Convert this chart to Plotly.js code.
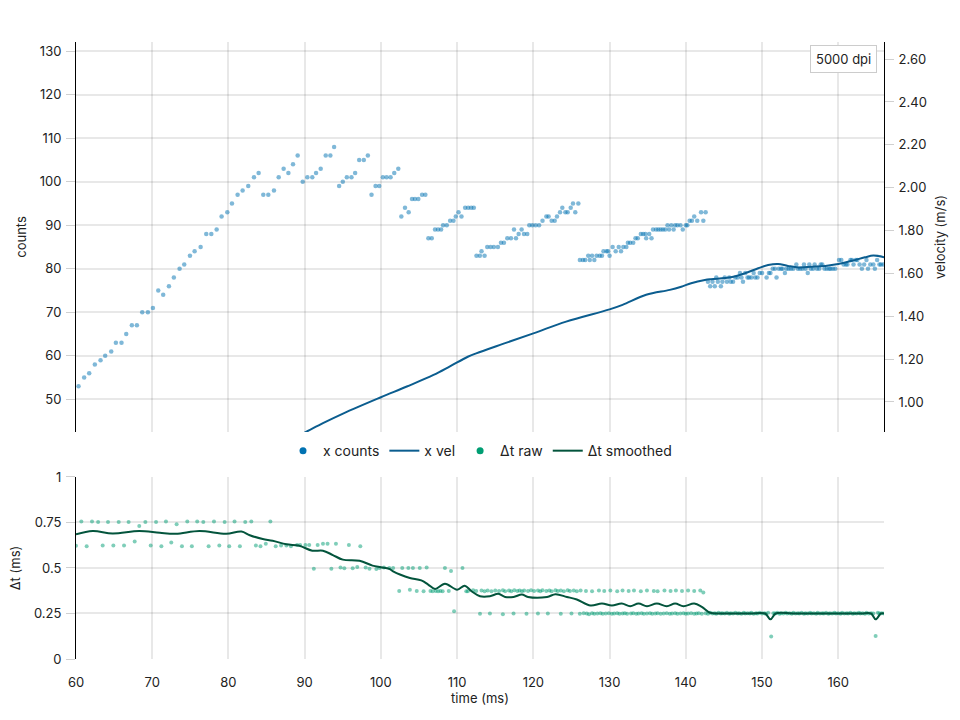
<!DOCTYPE html>
<html>
<head>
<meta charset="utf-8">
<script src="https://cdn.plot.ly/plotly-3.0.1.min.js"></script>
<style>html,body{margin:0;padding:0;background:#fff;}#chart{width:960px;height:720px;}</style>
</head>
<body>
<div id="chart"></div>
<script>
// ---- x counts (top panel, left axis) ----
var countT = [60.33,61.07,61.73,62.47,63.22,63.83,64.62,65.23,65.97,66.59,67.33,67.99,68.69,69.43,70.09,70.79,71.44,72.19,72.84,73.59,74.2,74.95,75.56,76.35,77.09,77.75,78.45,79.1,79.85,80.46,81.2,81.86,82.6,83.35,83.96,84.57,85.23,85.97,86.59,87.24,87.86,88.47,89.08,89.74,90.35,91.0,91.49,
92.1,92.76,93.37,93.86,94.52,95.0,95.53,96.14,96.62,97.15,97.76,98.29,98.77,99.3,99.78,100.26,100.75,101.27,101.75,102.28,102.68,103.16,103.64,104.08,104.47,104.91,105.4,105.83,106.23,106.67,107.1,107.5,107.9,108.16,108.64,109.08,109.52,109.82,110.18,110.57,111.05,111.45,111.84,112.19,112.54,112.98,113.2,113.6,113.95,114.39,114.82,115.35,115.75,116.14,116.58,117.06,117.46,117.72,118.07,118.46,118.77,119.2,119.47,119.87,120.3,120.75,
121.2,121.7,122.0,122.4,122.8,123.1,123.5,123.8,124.2,124.5,124.9,125.2,125.5,125.9,126.1,126.5,126.8,127.2,127.4,127.7,128.0,128.3,128.7,129.0,129.2,129.6,129.8,130.0,130.4,130.8,131.2,131.5,131.8,132.2,132.4,132.7,133.1,133.4,133.7,134.1,134.4,134.7,134.8,135.2,135.5,135.7,136.1,136.4,136.7,137.0,137.3,137.6,137.8,138.1,138.4,138.6,138.9,139.3,139.6,140.0,140.2,140.5,140.8,141.1,141.5,142.0,142.3,142.6,
142.9,143.2,143.5,143.8,144.0,144.2,144.6,144.8,145.1,145.4,145.7,145.9,146.2,146.5,146.8,147.1,147.3,147.5,147.8,148.1,148.3,148.6,148.9,149.1,149.4,149.7,150.0,150.6,150.9,151.1,151.4,151.7,151.9,152.2,152.5,152.7,153.0,153.2,153.5,153.8,154.1,154.5,154.7,155.0,155.3,155.5,155.7,156.0,156.2,156.4,156.7,156.9,157.2,157.5,157.7,157.9,158.2,158.5,158.8,159.0,159.3,159.6,160.1,160.4,160.7,161.0,161.2,161.6,161.8,162.0,162.3,162.5,162.8,163.1,163.4,163.7,163.9,164.2,164.6,164.8,165.1,165.4,165.6,165.9];
var countV = [53,55,56,58,59,60,61,63,63,65,67,67,70,70,71,75,74,76,78,80,81,83,84,85,88,88,89,92,93,95,97,98,99,101,102,97,97,98,101,103,102,104,106,100,101,101,102,
103,106,106,108,99,100,101,101,102,105,105,106,97,99,99,101,101,101,102,103,92,94,93,96,96,96,97,97,87,87,89,89,89,90,90,91,91,92,93,92,94,94,94,94,83,83,84,83,85,85,85,85,86,86,87,87,89,87,88,89,88,88,90,90,90,90,
91,92,92,91,91,92,93,94,93,93,94,95,93,95,82,82,82,83,82,83,82,83,83,83,84,84,84,83,85,84,85,84,85,85,86,86,86,87,87,88,88,88,87,88,87,89,89,89,89,89,89,90,89,90,89,90,90,90,89,90,90,91,91,92,91,93,91,93,
77,76,77,76,78,77,76,77,78,77,78,77,77,78,78,79,78,77,79,78,78,78,79,78,78,79,79,78,79,79,80,80,78,80,80,80,79,80,80,80,80,81,80,80,80,81,80,79,81,80,80,81,80,80,81,81,80,80,80,80,80,80,82,82,81,81,81,82,82,81,82,82,81,80,81,82,80,81,81,80,82,81,81,81];

// ---- x vel (top panel, right axis) ----
var velT = [89.0,90.0,92.4,95.1,100.0,103.4,106.9,109.0,111.4,112.5,116.0,120.0,124.3,130.0,131.7,134.8,137.9,139.4,140.7,142.5,143.3,145.9,147.7,149.5,150.8,152.1,153.4,154.8,156.5,158.3,160.0,161.8,163.5,164.6,166.1];
var velV = [0.84,0.857,0.901,0.947,1.022,1.072,1.126,1.165,1.211,1.227,1.271,1.32,1.375,1.432,1.453,1.50,1.523,1.538,1.554,1.569,1.573,1.582,1.60,1.624,1.639,1.644,1.635,1.628,1.631,1.635,1.644,1.659,1.675,1.683,1.675];

// ---- Δt raw (bottom panel) ----
var dtRawT = [60.7,62.1,62.9,64.2,65.6,66.9,68.3,69.1,70.5,71.8,73.2,74.6,75.9,76.7,78.1,79.5,80.8,82.2,83.0,85.5,
60.0,61.4,63.5,64.9,66.3,67.7,69.8,71.2,72.5,73.9,75.2,77.4,78.8,80.1,81.5,83.6,84.2,84.9,86.2,86.9,87.6,88.2,89.0,89.4,90.1,90.6,91.7,92.4,93.0,94.1,95.8,97.3,
91.2,93.5,94.7,95.2,96.3,96.9,98.0,98.5,99.4,99.8,100.4,101.1,101.6,102.8,103.6,104.2,105.1,106.0,108.4,109.2,110.7,
102.4,103.8,104.7,105.6,106.5,106.8,107.2,107.5,107.8,108.1,108.9,111.2,111.4,112.1,112.5,113.2,113.6,114.0,114.5,115.0,115.5,116.0,116.3,116.8,117.1,117.5,117.9,118.2,118.5,118.8,119.3,119.7,120.1,120.6,120.9,121.2,121.7,122.1,122.4,122.9,123.2,123.6,124.0,124.5,124.8,125.3,125.7,126.2,126.9,127.7,128.6,129.3,130.1,131.0,131.7,132.5,133.2,134.1,134.9,135.8,136.3,137.2,138.0,138.7,139.5,140.3,141.1,141.9,142.3,
109.6,113.0,114.3,116.0,117.4,119.1,120.6,121.9,123.6,125.0,126.1,126.6,127.0,127.3,127.7,128.0,128.4,128.8,129.1,129.5,129.9,130.3,130.6,131.0,131.3,131.7,132.0,132.3,132.8,133.1,133.5,133.8,134.2,134.5,134.9,135.3,135.6,136.0,136.3,136.7,137.1,137.5,137.9,138.2,138.6,138.9,139.3,139.7,140.0,140.3,140.7,141.1,141.4,141.7,142.1,
142.6,142.9,143.2,143.5,143.8,144.0,144.3,144.6,144.8,145.1,145.4,145.7,145.9,146.2,146.5,146.8,147.0,147.3,147.6,147.8,148.1,148.4,148.6,148.9,149.2,149.4,149.7,150.0,150.3,150.5,150.8,151.2,151.5,151.7,152.0,152.3,152.5,152.8,153.1,153.3,153.6,153.9,154.1,154.4,154.7,154.9,155.2,155.5,155.7,156.0,156.3,156.5,156.8,157.1,157.3,157.6,157.9,158.1,158.4,158.7,158.9,159.2,159.5,159.7,160.0,160.3,160.5,160.8,161.1,161.3,161.6,161.9,162.1,162.4,162.7,162.9,163.2,163.5,163.7,164.0,164.3,164.6,164.9,165.2,165.4,165.7,166.0];
var dtRawV = [0.755,0.755,0.752,0.752,0.752,0.752,0.73,0.752,0.752,0.755,0.74,0.755,0.755,0.752,0.755,0.752,0.755,0.752,0.755,0.755,
0.622,0.62,0.624,0.624,0.624,0.645,0.624,0.62,0.64,0.62,0.62,0.62,0.624,0.62,0.62,0.624,0.62,0.633,0.62,0.624,0.624,0.62,0.626,0.626,0.626,0.626,0.626,0.633,0.633,0.633,0.626,0.62,
0.496,0.496,0.502,0.498,0.498,0.505,0.503,0.496,0.495,0.5,0.503,0.5,0.5,0.5,0.5,0.5,0.5,0.502,0.5,0.484,0.5,
0.374,0.38,0.374,0.372,0.374,0.372,0.374,0.372,0.374,0.372,0.374,0.372,0.372,0.378,0.374,0.376,0.372,0.376,0.372,0.376,0.374,0.378,0.372,0.376,0.372,0.378,0.374,0.376,0.372,0.376,0.374,0.378,0.374,0.376,0.372,0.378,0.374,0.376,0.372,0.378,0.374,0.376,0.372,0.378,0.374,0.376,0.372,0.376,0.374,0.372,0.376,0.374,0.376,0.372,0.376,0.374,0.376,0.372,0.376,0.374,0.372,0.376,0.374,0.376,0.374,0.376,0.374,0.376,0.366,
0.263,0.248,0.25,0.246,0.25,0.248,0.25,0.25,0.248,0.25,0.248,0.252,0.25,0.246,0.252,0.248,0.25,0.252,0.248,0.25,0.252,0.248,0.25,0.252,0.248,0.25,0.252,0.248,0.25,0.252,0.248,0.25,0.252,0.248,0.25,0.252,0.248,0.25,0.252,0.248,0.25,0.252,0.248,0.25,0.252,0.248,0.25,0.252,0.248,0.25,0.252,0.248,0.25,0.252,0.248,
0.252,0.248,0.254,0.25,0.252,0.248,0.254,0.25,0.252,0.25,0.254,0.248,0.252,0.25,0.254,0.25,0.252,0.248,0.254,0.25,0.252,0.25,0.254,0.248,0.252,0.25,0.254,0.25,0.252,0.248,0.254,0.123,0.252,0.25,0.254,0.248,0.252,0.25,0.254,0.25,0.252,0.248,0.254,0.25,0.252,0.25,0.254,0.248,0.252,0.25,0.254,0.25,0.252,0.248,0.254,0.25,0.252,0.25,0.254,0.248,0.252,0.25,0.254,0.25,0.252,0.248,0.254,0.25,0.252,0.25,0.254,0.248,0.252,0.25,0.254,0.25,0.252,0.248,0.254,0.25,0.252,0.25,0.126,0.254,0.25,0.252,0.25];

// ---- Δt smoothed (bottom panel) ----
var dtSmT = [60.0,62.2,64.8,68.3,71.0,73.1,76.2,79.7,81.7,82.8,84.5,85.8,87.6,89.3,91.0,92.4,93.7,95.0,97.2,98.9,100.0,101.1,101.6,102.5,103.8,105.3,106.2,107.1,108.4,110.0,111.0,111.9,113.0,114.3,115.4,116.3,117.4,118.5,119.3,121.8,122.9,124.4,125.7,127.5,129.0,130.3,131.6,132.7,133.8,134.9,136.2,137.5,138.6,139.7,141.1,142.1,143.2,144.6,146.5,148.5,150.4,151.1,151.8,154.0,157.0,160.0,163.0,164.3,164.9,165.6,166.0];
var dtSmV = [0.685,0.703,0.69,0.703,0.693,0.688,0.703,0.688,0.70,0.68,0.659,0.65,0.63,0.622,0.595,0.595,0.571,0.546,0.54,0.513,0.504,0.495,0.482,0.464,0.445,0.432,0.409,0.385,0.414,0.381,0.403,0.372,0.345,0.345,0.358,0.341,0.341,0.354,0.341,0.341,0.356,0.341,0.327,0.294,0.305,0.294,0.305,0.29,0.305,0.29,0.305,0.29,0.305,0.29,0.305,0.287,0.254,0.25,0.25,0.25,0.25,0.218,0.25,0.25,0.25,0.25,0.25,0.25,0.218,0.25,0.25];

var bottomTickVals = [0,0.25,0.5,0.75,1];
var bottomTickText = ['0','0.25','0.5','0.75','1'];

var FONT = 'Inter, "Noto Sans", sans-serif';
var GRID = 'rgba(0,0,0,0.09)';
var TICKC = '#d0d0d0';

var traces = [
  {x: countT, y: countV, yaxis: 'y2', type: 'scatter', mode: 'markers', name: 'x counts', showlegend: false,
   marker: {color: '#0072B2', size: 4.5, opacity: 0.5}, hoverinfo: 'skip'},
  {x: [null], y: [null], yaxis: 'y2', type: 'scatter', mode: 'markers', name: 'x counts',
   marker: {color: '#0072B2', size: 7}},
  {x: velT, y: velV, yaxis: 'y3', type: 'scatter', mode: 'lines', name: 'x vel',
   line: {color: '#0b5d8f', width: 2, shape: 'spline', smoothing: 1}},
  {x: dtRawT, y: dtRawV, yaxis: 'y', type: 'scatter', mode: 'markers', name: 'Δt raw', showlegend: false,
   marker: {color: '#009E73', size: 4, opacity: 0.5}},
  {x: [null], y: [null], yaxis: 'y', type: 'scatter', mode: 'markers', name: 'Δt raw',
   marker: {color: '#009E73', size: 7}},
  {x: dtSmT, y: dtSmV, yaxis: 'y', type: 'scatter', mode: 'lines', name: 'Δt smoothed',
   line: {color: '#03543c', width: 2, shape: 'spline', smoothing: 1}}
];

var layout = {
  width: 960, height: 720,
  margin: {l: 76, r: 76, t: 42, b: 61},
  paper_bgcolor: '#fff', plot_bgcolor: '#fff',
  font: {family: FONT, size: 13, color: '#222'},
  showlegend: true,
  legend: {orientation: 'h', x: 0.5, xanchor: 'center', y: 0.337, yanchor: 'middle',
           font: {family: FONT, size: 14, color: '#222'}, bgcolor: 'rgba(0,0,0,0)'},
  xaxis: {domain: [0, 1], range: [60, 166], anchor: 'y', dtick: 10, tick0: 0,
          showgrid: true, gridcolor: GRID, gridwidth: 1.5, zeroline: false, showline: false,
          ticks: 'outside', ticklen: 9, tickcolor: 'rgba(0,0,0,0)', ticklabelstandoff: 2,
          title: {text: 'time (ms)', standoff: 4, font: {size: 13}}},
  yaxis: {domain: [0, 0.295], range: [0, 1], anchor: 'x', tickvals: bottomTickVals, ticktext: bottomTickText,
          showgrid: true, gridcolor: GRID, gridwidth: 1.5, zeroline: false,
          showline: true, linecolor: '#000', linewidth: 1, ticks: 'outside', ticklen: 9, tickcolor: TICKC,
          ticklabelstandoff: 2,
          title: {text: 'Δt (ms)', standoff: 10, font: {size: 13}}},
  yaxis2: {domain: [0.368, 1], range: [42.5, 132.1], anchor: 'x', dtick: 10, tick0: 0,
           showgrid: true, gridcolor: GRID, gridwidth: 1.5, zeroline: false,
           showline: true, linecolor: '#000', linewidth: 1, ticks: 'outside', ticklen: 9, tickcolor: TICKC,
           ticklabelstandoff: 2,
           title: {text: 'counts', standoff: 10, font: {size: 13}}},
  yaxis3: {overlaying: 'y2', side: 'right', anchor: 'x', range: [0.86, 2.68], dtick: 0.2, tick0: 0, tickformat: '.2f',
           showgrid: false, zeroline: false, showline: true, linecolor: '#000', linewidth: 1,
           ticks: 'outside', ticklen: 9, tickcolor: TICKC, ticklabelstandoff: 2,
           title: {text: 'velocity (m/s)', standoff: 10, font: {size: 13}}},
  annotations: [{xref: 'paper', yref: 'paper', x: 1, y: 1, xanchor: 'right', yanchor: 'top', xshift: -7, yshift: -3,
                 text: '5000 dpi', showarrow: false, font: {family: FONT, size: 13, color: '#222'},
                 bgcolor: '#fff', bordercolor: '#ccc', borderwidth: 1, borderpad: 5}]
};

Plotly.newPlot('chart', traces, layout, {displayModeBar: false, responsive: false});
</script>
</body>
</html>
